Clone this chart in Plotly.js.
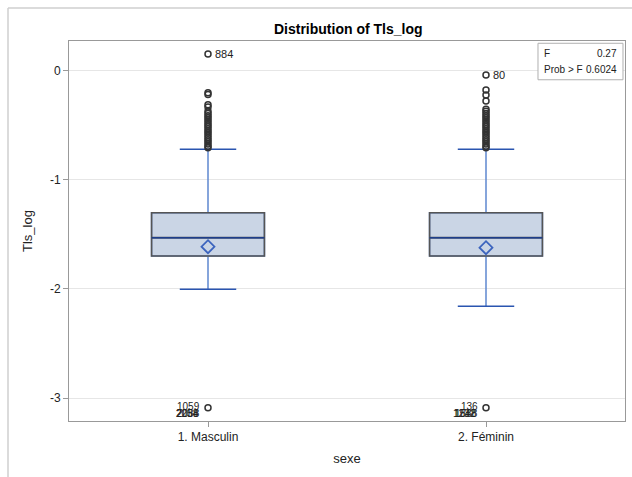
<!DOCTYPE html>
<html>
<head>
<meta charset="utf-8">
<script src="https://cdn.plot.ly/plotly-3.0.1.min.js"></script>
<style>
html,body{margin:0;padding:0;background:#fff;}
#chart{width:632px;height:477px;}
</style>
</head>
<body>
<div id="chart"></div>
<script>
// ---- data ----
const categories = ["1. Masculin", "2. Féminin"];
const q1 = [-1.697, -1.697];
const median = [-1.529, -1.529];
const q3 = [-1.300, -1.300];
const lowerWhisker = [-2.003, -2.159];
const upperWhisker = [-0.718, -0.718];
const means = [-1.612, -1.621];

const outliersMasc = [0.156, -0.200, -0.215, -0.310, -0.330, -0.370, -0.390, -0.410, -0.430, -0.450, -0.470, -0.490, -0.510, -0.530, -0.550, -0.570, -0.590, -0.610, -0.630, -0.650, -0.670, -0.690, -0.705, -3.090];
const outliersFem = [-0.037, -0.174, -0.220, -0.275, -0.350, -0.370, -0.390, -0.410, -0.430, -0.450, -0.470, -0.490, -0.510, -0.530, -0.550, -0.570, -0.590, -0.610, -0.630, -0.650, -0.670, -0.690, -0.705, -3.090];

const labelsHigh = ["884", "80"];
const labelsHighY = [0.156, -0.037];
const labelsLow = ["1059", "136"];
const labelsLowY = [-3.09, -3.09];
const stackedLowMasc = ["2054", "2088", "2238"];
const stackedLowFem = ["1232", "1548", "1888"];
const statF = "0.27";
const statP = "0.6024";
const yTicks = [0, -1, -2, -3];

// ---- traces ----
const fnt = "Liberation Sans, Arial, sans-serif";
const BW = 0.406;
const traces = [];
// box fill + blue whiskers
traces.push({
  type: "box", x: categories, q1: q1, median: median, q3: q3,
  lowerfence: lowerWhisker, upperfence: upperWhisker, width: BW,
  fillcolor: "#cad5e5", line: {color: "#5f88d0", width: 1.5},
  whiskerwidth: 0, boxpoints: false, hoverinfo: "skip", showlegend: false
});
// gray box border (no whiskers)
traces.push({
  type: "box", x: categories, q1: q1, median: median, q3: q3,
  lowerfence: q1, upperfence: q3, width: BW,
  fillcolor: "rgba(0,0,0,0)", line: {color: "#555555", width: 1.6},
  whiskerwidth: 0, boxpoints: false, hoverinfo: "skip", showlegend: false
});
// dark blue median
traces.push({
  type: "box", x: categories, q1: median, median: median, q3: median,
  lowerfence: median, upperfence: median, width: BW,
  fillcolor: "rgba(0,0,0,0)", line: {color: "#1f3f8a", width: 1.5},
  whiskerwidth: 0, boxpoints: false, hoverinfo: "skip", showlegend: false
});
// whisker caps (half box width)
traces.push({
  type: "box", x: categories, q1: lowerWhisker, median: lowerWhisker, q3: lowerWhisker,
  lowerfence: lowerWhisker, upperfence: lowerWhisker, width: BW / 2,
  fillcolor: "rgba(0,0,0,0)", line: {color: "#2a55b0", width: 1.5},
  whiskerwidth: 0, boxpoints: false, hoverinfo: "skip", showlegend: false
});
traces.push({
  type: "box", x: categories, q1: upperWhisker, median: upperWhisker, q3: upperWhisker,
  lowerfence: upperWhisker, upperfence: upperWhisker, width: BW / 2,
  fillcolor: "rgba(0,0,0,0)", line: {color: "#2a55b0", width: 1.5},
  whiskerwidth: 0, boxpoints: false, hoverinfo: "skip", showlegend: false
});
// means
traces.push({
  type: "scatter", mode: "markers", x: categories, y: means,
  marker: {symbol: "diamond-open", size: 10, color: "#3c64be", line: {width: 1.8, color: "#3c64be"}},
  hoverinfo: "skip", showlegend: false
});
// outliers
traces.push({
  type: "scatter", mode: "markers", x: outliersMasc.map(() => categories[0]), y: outliersMasc,
  marker: {symbol: "circle-open", size: 6, color: "#333", line: {width: 1.5, color: "#333"}},
  hoverinfo: "skip", showlegend: false
});
traces.push({
  type: "scatter", mode: "markers", x: outliersFem.map(() => categories[1]), y: outliersFem,
  marker: {symbol: "circle-open", size: 6, color: "#333", line: {width: 1.5, color: "#333"}},
  hoverinfo: "skip", showlegend: false
});

// ---- annotations ----
const ann = [];
labelsHigh.forEach((t, i) => {
  ann.push({x: i, y: labelsHighY[i], xref: "x", yref: "y", text: t, showarrow: false,
    xanchor: "left", xshift: 5, font: {family: fnt, size: 11, color: "#222"}});
});
labelsLow.forEach((t, i) => {
  ann.push({x: i, y: labelsLowY[i], xref: "x", yref: "y", text: t, showarrow: false,
    xanchor: "right", xshift: -6, yshift: 1, font: {family: fnt, size: 10, color: "#222"}});
});
stackedLowMasc.forEach((t, j) => {
  ann.push({x: 0, y: labelsLowY[0], xref: "x", yref: "y", text: t, showarrow: false,
    xanchor: "right", xshift: -7 + (j % 2), yshift: -6, font: {family: fnt, size: 10, color: "#222"}});
});
stackedLowFem.forEach((t, j) => {
  ann.push({x: 1, y: labelsLowY[1], xref: "x", yref: "y", text: t, showarrow: false,
    xanchor: "right", xshift: -8 + j, yshift: -6, font: {family: fnt, size: 10, color: "#222"}});
});
// stats inset
ann.push({x: 0.850, y: 0.988, xref: "paper", yref: "paper", text: "F", showarrow: false,
  xanchor: "left", yanchor: "top", font: {family: fnt, size: 10, color: "#222"}});
ann.push({x: 0.989, y: 0.988, xref: "paper", yref: "paper", text: statF, showarrow: false,
  xanchor: "right", yanchor: "top", font: {family: fnt, size: 10, color: "#222"}});
ann.push({x: 0.850, y: 0.946, xref: "paper", yref: "paper", text: "Prob &gt; F", showarrow: false,
  xanchor: "left", yanchor: "top", font: {family: fnt, size: 10, color: "#222"}});
ann.push({x: 0.989, y: 0.946, xref: "paper", yref: "paper", text: statP, showarrow: false,
  xanchor: "right", yanchor: "top", font: {family: fnt, size: 10, color: "#222"}});

const shapes = [
  {type: "rect", xref: "paper", yref: "paper", x0: 0.8435, x1: 0.9964, y0: 0.898, y1: 0.994,
   line: {color: "#b0b0b0", width: 1}, fillcolor: "#ffffff", layer: "above"},
  {type: "line", xref: "paper", yref: "paper", x0: -0.1097, x1: 1.02, y0: 1.0868, y1: 1.0868,
   line: {color: "#cfcfcf", width: 1.5}},
  {type: "line", xref: "paper", yref: "paper", x0: -0.1097, x1: -0.1097, y0: -0.16, y1: 1.0868,
   line: {color: "#cfcfcf", width: 1.5}}
];

const layout = {
  width: 632, height: 477,
  margin: {l: 69, r: 7, t: 41, b: 56},
  paper_bgcolor: "#fff", plot_bgcolor: "#fff",
  boxmode: "overlay",
  showlegend: false,
  title: {text: "<b>Distribution of Tls_log</b>", x: 0.551, xanchor: "center", y: 0.94, yanchor: "middle",
    font: {family: fnt, size: 14, color: "#000"}},
  xaxis: {
    type: "category", range: [-0.5, 1.5],
    title: {text: "sexe", font: {family: fnt, size: 13, color: "#222"}, standoff: 10},
    tickfont: {family: fnt, size: 12, color: "#222"},
    ticks: "outside", ticklen: 5, tickcolor: "#999",
    showline: true, linecolor: "#999", linewidth: 1, mirror: true,
    showgrid: false, zeroline: false
  },
  yaxis: {
    range: [-3.211, 0.275],
    tickvals: yTicks, ticktext: yTicks.map(String),
    title: {text: "Tls_log", font: {family: fnt, size: 13, color: "#222"}, standoff: 14},
    tickfont: {family: fnt, size: 12, color: "#222"},
    ticks: "outside", ticklen: 5, tickcolor: "#999",
    showline: true, linecolor: "#999", linewidth: 1, mirror: true,
    showgrid: true, gridcolor: "#e6e6e6", zeroline: false
  },
  annotations: ann,
  shapes: shapes
};

Plotly.newPlot("chart", traces, layout, {displayModeBar: false, staticPlot: true});
</script>
</body>
</html>
